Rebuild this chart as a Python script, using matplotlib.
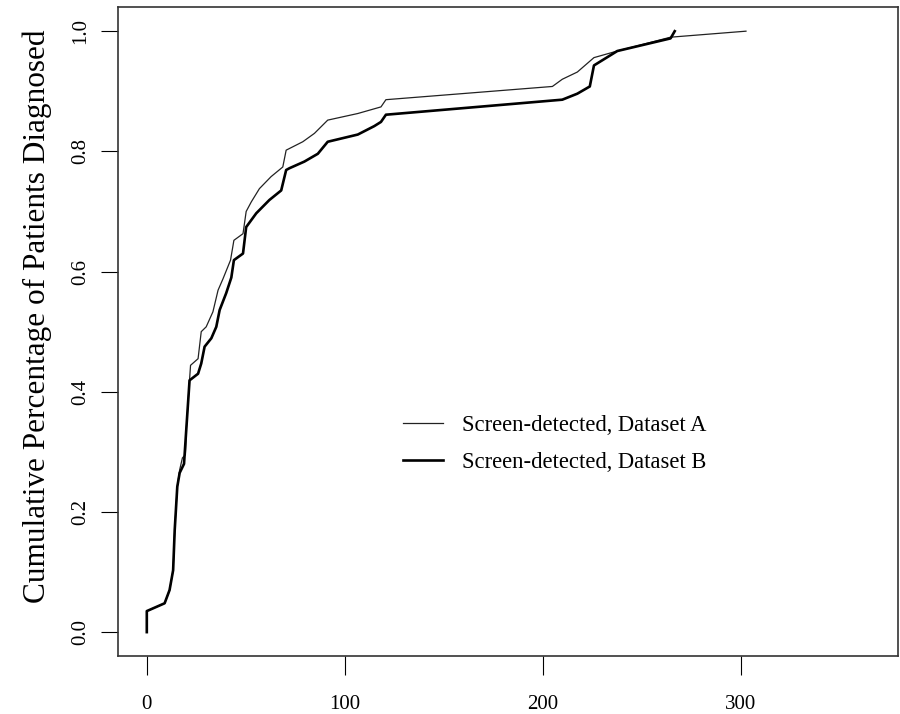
#!/usr/bin/env python3
# -*- coding=utf-8 -*-
from matplotlib import pyplot as plt
plt.rcParams['font.family'] = ['Liberation Serif', 'DejaVu Serif']

# days since start -> cumulative share diagnosed
days_a = [0, 0, 9, 11.5, 13.3, 14.1, 15.4, 16.6, 18, 19.5, 20, 21.6, 22.1, 25.9,
          27.5, 30, 33.4, 36, 38.5, 42.3, 44, 48.6, 50.2, 52.8, 56.9, 62.8, 68.7,
          70.4, 78.8, 84.7, 91.4, 106.6, 118.3, 120.8, 204.9, 209.9, 217.5,
          225.9, 237.7, 264.6, 302.7]
cum_a = [0, 0.035, 0.048, 0.07, 0.103, 0.17, 0.242, 0.27, 0.29, 0.295, 0.34,
         0.42, 0.444, 0.455, 0.50, 0.508, 0.533, 0.569, 0.588, 0.619, 0.652,
         0.663, 0.70, 0.716, 0.738, 0.758, 0.774, 0.802, 0.816, 0.83, 0.852,
         0.863, 0.874, 0.886, 0.908, 0.92, 0.932, 0.956, 0.967, 0.99, 1.0]

days_b = [0, 0, 9, 11.5, 13.3, 14.1, 15.4, 16.6, 18.8, 20, 21.6, 25.9, 27.5,
          29.2, 32.6, 35.1, 36.8, 40.1, 42.7, 44, 48.6, 50.2, 55.3, 61.9, 67.9,
          70.4, 72.1, 79.6, 86.4, 91.4, 106.6, 114.9, 118.3, 120.8, 209.9,
          217.5, 223.8, 225.9, 237.7, 264.6, 266.7]
cum_b = [0, 0.035, 0.048, 0.07, 0.103, 0.17, 0.242, 0.265, 0.28, 0.34, 0.419,
         0.43, 0.447, 0.475, 0.489, 0.508, 0.536, 0.564, 0.59, 0.619, 0.63,
         0.674, 0.697, 0.719, 0.735, 0.769, 0.772, 0.783, 0.796, 0.816, 0.828,
         0.842, 0.849, 0.861, 0.886, 0.896, 0.908, 0.943, 0.967, 0.988, 1.0]

labels = ['Screen-detected, Dataset A', 'Screen-detected, Dataset B']
x_ticks = [0, 100, 200, 300]
y_ticks = [0.0, 0.2, 0.4, 0.6, 0.8, 1.0]

fig = plt.figure(figsize=(9, 7.14), dpi=100)
ax = fig.add_axes([0.131, 0.081, 0.867, 0.909])

ax.plot(days_a, cum_a, color='#222222', linewidth=0.9, label=labels[0])
ax.plot(days_b, cum_b, color='black', linewidth=1.9, label=labels[1])

# R style: 4% padding around the data range
ax.set_xlim(-0.04 * 365, 365 * 1.04)
ax.set_ylim(-0.04, 1.04)

ax.set_xticks(x_ticks)
ax.set_xticklabels([str(t) for t in x_ticks])
ax.set_yticks(y_ticks)
ax.set_yticklabels(['%.1f' % t for t in y_ticks], rotation=90, va='center')
ax.tick_params(axis='x', length=14, width=0.8, pad=14, labelsize=15)
ax.tick_params(axis='y', length=12, width=0.8, pad=8, labelsize=15)
for s in ax.spines.values():
    s.set_linewidth(1.2)
    s.set_color('#333333')

ax.set_ylabel('Cumulative Percentage of Patients Diagnosed', fontsize=22.5)
ax.yaxis.set_label_coords(-0.085, 0.523)

ax.legend(loc='center left', bbox_to_anchor=(0.435, 0.378),
          bbox_transform=fig.transFigure, frameon=False, fontsize=16.3,
          borderpad=0, handlelength=1.77, handletextpad=0.84, labelspacing=0.70)

plt.savefig('out.png')
